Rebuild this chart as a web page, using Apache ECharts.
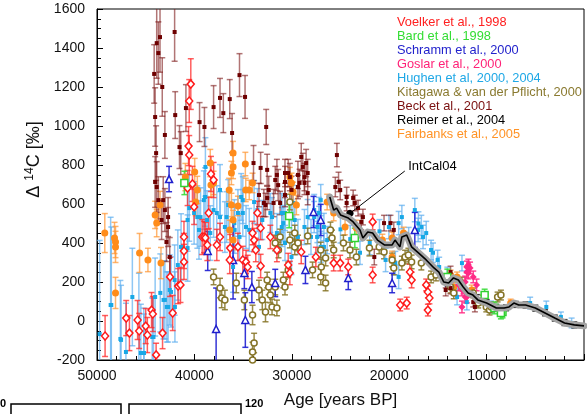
<!DOCTYPE html>
<html>
<head>
<meta charset="utf-8">
<script src="https://cdn.jsdelivr.net/npm/echarts@6/dist/echarts.min.js"></script>
<style>html,body{margin:0;padding:0;background:#fff;}#c{width:587px;height:414px;}</style>
</head>
<body>
<div id="c"></div>
<script>
// ---- data: [age (years BP), Δ14C (‰), 1σ error (‰)] ----
const voelker = [[49170,-77,105],[47000,15,90],[46670,-62,90],[45830,5,100],[45670,-51,90],[45000,-26,90],[44830,-72,90],[44400,56,90],[44270,36,90],[43930,-174,60],[43270,-62,80],[42230,41,90],[42500,226,100],[41670,179,90],[41430,185,90],[41070,303,90],[41070,359,90],[41070,431,80],[40370,1215,130],[40530,1128,110],[40600,897,100],[40530,851,100],[40700,682,90],[40200,703,90],[40030,585,90],[39200,431,90],[39000,431,80],[38870,426,80],[38670,390,80],[38530,554,80],[38300,754,90],[38030,723,90],[37700,390,80],[37370,431,70],[36370,313,70],[36330,374,70],[35530,380,70],[35030,313,70],[34700,303,60],[34530,277,60],[34030,451,60],[33870,415,60],[33700,364,60],[33530,554,60],[33200,477,60],[33200,282,60],[32200,431,60],[31530,364,60],[30370,287,60],[30200,246,60],[29030,354,60],[27530,328,50],[25700,297,40],[25030,297,40],[24200,277,40],[21700,508,40],[21700,236,40],[18200,92,30],[18870,82,30],[17870,251,40],[17700,210,40],[16200,185,30],[16030,149,30],[15870,118,30],[16030,56,30]];
const bard = [[41030,708,60],[30270,538,60],[23530,426,50],[14030,226,40],[10200,133,30],[9200,67,30],[8370,46,30],[8530,41,30]];
const schramm = [[42600,728,65],[38630,359,100],[36030,313,200],[37770,-41,210],[34870,246,80],[34100,174,80],[34770,5,140],[31700,195,70],[28600,262,70],[27770,559,80],[27030,518,80],[24200,221,60],[19700,195,50],[17370,467,90]];
const goslar = [[11870,287,30],[11700,272,30],[12030,251,30],[12200,200,30],[11370,226,30],[11030,185,30],[12370,169,30],[12030,123,30],[12530,72,30],[12030,277,30],[11870,246,30],[12200,123,30],[12870,185,30],[12530,159,30]];
const hughen = [[49730,-67,480],[48600,82,450],[48530,82,400],[47600,-92,300],[47530,-97,280],[47030,-159,250],[46370,123,250],[45700,5,240],[45500,-164,250],[45200,-164,230],[45170,-164,200],[44330,-82,200],[44200,-82,200],[44030,123,200],[43500,144,200],[43170,108,200],[43030,108,200],[42830,72,180],[42700,72,180],[42530,159,180],[42400,149,180],[42030,210,180],[42000,72,180],[41700,287,180],[41370,380,170],[40700,374,170],[40700,518,160],[40530,579,170],[40030,554,160],[39700,533,160],[39530,467,150],[39370,533,150],[39030,620,150],[38900,636,150],[38870,790,150],[38700,518,150],[38370,451,140],[38030,569,140],[37700,554,140],[37370,533,130],[37370,672,130],[36870,482,130],[36700,533,130],[36530,595,130],[36030,277,130],[35900,502,120],[35870,467,120],[35530,554,120],[35370,431,120],[35200,636,120],[35030,620,120],[35030,554,120],[34700,482,110],[34370,467,110],[33870,610,110],[33530,569,110],[33370,380,110],[33030,518,100],[32200,554,100],[32030,533,100],[31530,451,100],[31030,554,100],[31030,482,100],[30870,502,90],[30700,554,90],[30700,400,90],[30030,533,90],[30030,328,90],[29870,605,90],[29700,518,90],[29370,431,90],[28700,482,90],[28370,533,90],[28030,431,90],[27700,569,80],[27700,533,80],[27400,431,80],[27370,482,80],[27200,508,80],[27200,554,80],[27030,620,80],[27030,380,80],[26700,482,70],[26700,380,70],[26370,415,70],[25000,470,70],[24000,420,70],[23000,350,60],[22000,400,60],[21000,460,60],[20370,313,60],[20030,482,60],[19370,297,60],[19030,502,60],[19030,226,60],[18700,533,60],[18000,420,60],[17370,569,60],[17030,467,60],[17000,500,60],[16700,482,60],[16530,431,60],[16200,451,60],[15700,364,50],[15500,350,50],[15030,313,50],[14870,277,50],[14030,226,50],[13200,174,40],[13030,123,40],[12530,297,40],[12030,97,40],[9530,72,30],[5530,92,30],[3870,72,30],[2370,21,25],[1270,-10,25]];
const kitagawa = [[38030,226,40],[37370,169,50],[37200,118,50],[36870,108,50],[35700,195,50],[34870,108,50],[34030,31,50],[33870,-113,50],[34030,-159,50],[34030,-200,50],[33370,159,50],[33030,108,50],[32700,46,50],[32370,174,40],[32200,133,40],[32030,72,40],[32530,210,40],[31700,174,40],[31530,67,40],[31700,400,40],[31370,364,40],[30870,210,40],[30700,174,40],[30370,262,40],[30200,415,40],[30200,610,40],[29700,451,40],[29700,380,40],[29370,400,40],[28370,436,40],[31200,431,40],[27870,262,40],[27030,226,40],[26970,277,40],[27030,364,40],[26530,323,40],[26530,195,40],[26030,467,40],[25870,426,40],[25700,364,40],[24700,400,40],[24030,364,40],[23370,328,40],[22030,374,40],[21030,380,35],[20530,354,35],[19700,313,35],[19530,272,35],[18700,297,35],[18370,328,35],[18030,338,35],[17700,303,35],[16700,297,35],[15700,226,30],[15200,236,30],[13700,174,30],[13370,144,30],[12530,195,30],[11370,144,25],[10870,92,25],[10370,108,25],[10030,72,25],[9700,56,25],[9530,72,25],[8870,123,25],[8530,133,25]];
const beck = [[44130,1267,150],[43870,1425,180],[43700,1374,160],[43530,1456,180],[43300,1200,150],[44030,1046,150],[43930,861,140],[44030,713,130],[43030,954,120],[42030,1482,150],[41970,1056,120],[41530,892,110],[41400,861,110],[40870,1092,120],[39470,1020,100],[38970,995,100],[38030,1097,110],[37370,1144,100],[37030,1066,100],[36370,1138,100],[36130,964,100],[35370,1261,110],[34800,1149,110],[33930,810,90],[33200,785,80],[32630,995,90],[32530,775,80],[31530,749,80],[31400,697,80],[31700,723,70],[30700,713,80],[30700,759,70],[30370,759,70],[30200,738,70],[30030,672,70],[29370,749,70],[29200,708,70],[29030,841,70],[28870,790,70],[28700,738,70],[28530,810,70],[28370,759,70],[28370,656,60],[29370,687,60],[28700,708,60],[32370,672,70],[32870,605,70],[31870,605,70],[32700,595,60],[32530,631,60],[33370,646,60],[31200,605,60],[30700,646,60],[43870,687,130],[43700,620,120],[43030,569,110],[42700,482,100],[42870,405,100],[42530,328,100],[43200,620,120],[42700,533,100],[43370,518,100],[25370,851,60],[25200,713,50],[25530,687,50],[25030,672,50],[24370,636,50],[24370,605,40],[23700,631,40],[23530,605,40],[23200,579,40],[22700,533,40],[22870,508,40],[21530,328,40],[20530,502,40],[19870,502,40],[19530,467,40],[13700,251,30],[14200,200,30],[14200,159,30],[13700,169,30],[11200,72,25],[11370,97,25]];
const reimer = [[11000,120,15],[10000,95,15],[9000,70,15],[8000,68,15],[7000,85,15],[6000,82,15],[5000,66,15],[4000,42,15],[3000,15,15],[2000,-8,15],[1000,-20,15]];
const fairbanks = [[49200,451,100],[48200,426,80],[48100,405,80],[48100,380,80],[48100,144,80],[45630,349,100],[44770,313,60],[43430,297,80],[44030,544,70],[43870,502,70],[43530,595,70],[40930,738,70],[39970,764,70],[39870,610,70],[39700,672,70],[38370,810,70],[38300,697,60],[38030,708,60],[36430,672,60],[36370,467,50],[36200,759,60],[36200,595,60],[36030,861,60],[36030,790,60],[36030,518,50],[36030,415,50],[35530,590,50],[34770,805,60],[34730,672,60],[34370,672,50],[34030,708,50],[30200,738,50],[30030,708,50],[29870,662,50],[29530,595,50],[26370,610,40],[25700,554,40],[24530,482,40],[23370,477,40],[20700,415,30],[19700,426,30],[19700,328,30],[18530,451,30],[13700,236,25],[13030,226,25],[13370,174,25],[11530,159,25],[7530,92,20]];
const intcalAge = [26100,25700,25400,25000,24200,23700,23000,22700,22200,21700,21200,20500,19700,19400,18900,18700,18200,17700,17000,16200,15400,14900,14400,13900,13400,12900,12400,11900,11400,10900,10000,9000,8200,7700,7200,6700,6000,5000,4000,3000,2000,1000,0];
const intcalD14C = [636,569,579,544,528,508,467,426,456,451,415,390,390,415,380,431,441,380,349,313,272,251,200,195,221,210,174,144,133,108,92,67,67,72,92,82,82,67,41,15,-10,-20,-25];
const xTicks = [0,10000,20000,30000,40000,50000];
const yTicks = [-200,0,200,400,600,800,1000,1200,1400,1600];

const FONT = "'Liberation Sans', Arial, Helvetica, sans-serif";

const sets = {
  voelker:  {name:'Voelker et al., 1998', data:voelker, text:'#ff2020', bar:'rgba(255,40,40,0.75)', sym:'diamond', size:[7,8], fill:'#ffffff', stroke:'#ff1a1a'},
  bard:     {name:'Bard et al., 1998', data:bard, text:'#33dd33', bar:'rgba(60,220,60,0.9)', sym:'rect', size:7, fill:'#ffffff', stroke:'#2fd12f'},
  schramm:  {name:'Schramm et al., 2000', data:schramm, text:'#2222cc', bar:'rgba(30,30,210,0.9)', sym:'triangle', size:7, fill:'#ffffff', stroke:'#1f1fcc'},
  goslar:   {name:'Goslar et al., 2000', data:goslar, text:'#ff2277', bar:'rgba(255,40,130,0.85)', sym:'diamond', size:7, fill:'#ff2a85', stroke:null},
  hughen:   {name:'Hughen et al, 2000, 2004', data:hughen, text:'#1fa8e6', bar:'rgba(95,175,240,0.7)', sym:'rect', size:4, fill:'#18a8e6', stroke:null},
  kitagawa: {name:'Kitagawa & van der Pflicht, 2000', data:kitagawa, text:'#8a7a30', bar:'rgba(135,118,40,0.85)', sym:'circle', size:6, fill:'#ffffff', stroke:'#857428'},
  beck:     {name:'Beck et al., 2001', data:beck, text:'#7a0f0f', bar:'rgba(125,25,25,0.6)', sym:'rect', size:4, fill:'#6e0000', stroke:null},
  reimer:   {name:'Reimer et al., 2004', data:reimer, text:'#000000', bar:'rgba(0,0,0,0.8)', sym:'circle', size:3, fill:'#000000', stroke:null},
  fairbanks:{name:'Fairbanks et al., 2005', data:fairbanks, text:'#ff9326', bar:'rgba(255,150,50,0.7)', sym:'circle', size:7, fill:'#ff8c1a', stroke:null}
};
const legendOrder = ['voelker','bard','schramm','goslar','hughen','kitagawa','beck','reimer','fairbanks'];
const barOrder = ['hughen','fairbanks','kitagawa','schramm','voelker','beck','goslar','bard','reimer'];
const markOrder = ['hughen','fairbanks','kitagawa','beck','schramm','voelker','goslar','bard','reimer'];

function errRender(color, capW, lw) {
  return function (params, api) {
    const x = api.value(0), y = api.value(1), e = api.value(2);
    const t = api.coord([x, y + e]);
    const b = api.coord([x, y - e]);
    const h = capW / 2;
    const st = {stroke: color, lineWidth: lw};
    return {type: 'group', children: [
      {type: 'line', shape: {x1: t[0], y1: t[1], x2: b[0], y2: b[1]}, style: st},
      {type: 'line', shape: {x1: t[0] - h, y1: t[1], x2: t[0] + h, y2: t[1]}, style: st},
      {type: 'line', shape: {x1: b[0] - h, y1: b[1], x2: b[0] + h, y2: b[1]}, style: st}
    ]};
  };
}

const series = [];
barOrder.forEach(k => {
  const s = sets[k];
  series.push({type: 'custom', name: s.name, data: s.data, renderItem: errRender(s.bar, 6, 1.5),
    encode: {x: 0, y: 1}, clip: true, z: 2, silent: true});
});
markOrder.forEach(k => {
  const s = sets[k];
  series.push({type: 'scatter', name: s.name, data: s.data.map(d => [d[0], d[1]]), symbol: s.sym,
    symbolSize: s.size, clip: true, z: 3, silent: true,
    itemStyle: {color: s.fill, opacity: 1, borderColor: s.stroke || s.fill, borderWidth: s.stroke ? 1.5 : 0}});
});
const curve = intcalAge.map((a, i) => [a, intcalD14C[i]]);
series.push({type: 'line', name: 'IntCal04 band', data: curve, showSymbol: false, z: 5, silent: true,
  lineStyle: {color: '#a3a3a3', width: 7, join: 'round', cap: 'round'}});
series.push({type: 'line', name: 'IntCal04', data: curve, showSymbol: false, z: 6, silent: true,
  lineStyle: {color: '#000000', width: 1.6},
  markLine: {silent: true, symbol: ['circle', 'none'], symbolSize: 7, animation: false,
    lineStyle: {color: '#000', width: 1, type: 'solid'}, label: {show: false},
    data: [[{coord: [24030, 552]}, {coord: [18400, 769]}]]},
  markPoint: {symbol: 'circle', symbolSize: 1, itemStyle: {color: 'rgba(0,0,0,0)'},
    label: {show: true, position: 'right', distance: 0, formatter: 'IntCal04', color: '#000', fontSize: 13, fontFamily: FONT},
    data: [{coord: [18100, 795]}]}
});

const chart = echarts.init(document.getElementById('c'), null, {renderer: 'canvas'});
chart.setOption({
  animation: false,
  backgroundColor: '#fff',
  textStyle: {fontFamily: FONT},
  grid: {left: 97, top: 9, width: 500, height: 351, show: true, borderColor: '#000', borderWidth: 1, backgroundColor: 'rgba(0,0,0,0)'},
  legend: {
    orient: 'vertical', left: 392, top: 16, padding: 0, itemWidth: 0, itemHeight: 0, itemGap: 0, icon: 'rect',
    selectedMode: false,
    textStyle: {fontSize: 12.8, fontFamily: FONT, lineHeight: 13.9},
    data: legendOrder.map(k => ({name: sets[k].name, textStyle: {color: sets[k].text}}))
  },
  xAxis: {
    type: 'value', min: xTicks[0], max: xTicks[xTicks.length - 1], interval: 10000, inverse: true,
    name: 'Age [years BP]', nameLocation: 'middle', nameGap: 32,
    nameTextStyle: {fontSize: 17, color: '#111', fontFamily: FONT},
    axisLine: {show: true, onZero: false, lineStyle: {color: '#000', width: 1}},
    axisTick: {show: true, inside: true, length: 6, lineStyle: {color: '#000'}},
    minorTick: {show: true, splitNumber: 5, length: 4, lineStyle: {color: '#000'}},
    splitLine: {show: false},
    axisLabel: {margin: 9, fontSize: 14, color: '#111', fontFamily: FONT, formatter: v => (v === 0 ? '' : String(v))}
  },
  yAxis: {
    type: 'value', min: yTicks[0], max: yTicks[yTicks.length - 1], interval: 200,
    name: '{d|Δ }{s|14}{c|C [‰]}', nameLocation: 'middle', nameGap: 46, nameRotate: 90,
    nameTextStyle: {color: '#111', fontFamily: FONT, padding: [0, 0, 0, 50],
      rich: {d: {fontSize: 18, fontFamily: FONT, color: '#111'}, s: {fontSize: 12, fontFamily: FONT, color: '#111', verticalAlign: 'top', padding: [0, 0, 8, 0]}, c: {fontSize: 18, fontFamily: FONT, color: '#111'}}},
    axisLine: {show: true, onZero: false, lineStyle: {color: '#000', width: 1}},
    axisTick: {show: true, inside: true, length: 6, lineStyle: {color: '#000'}},
    minorTick: {show: true, splitNumber: 4, length: 4, lineStyle: {color: '#000'}},
    splitLine: {show: false},
    axisLabel: {margin: 12, fontSize: 14, color: '#111', fontFamily: FONT, formatter: v => String(v)}
  },
  graphic: [
    {type: 'rect', shape: {x: 11, y: 404, width: 110, height: 20}, style: {fill: 'none', stroke: '#000', lineWidth: 1.5}},
    {type: 'rect', shape: {x: 129, y: 404, width: 112, height: 20}, style: {fill: 'none', stroke: '#000', lineWidth: 1.5}},
    {type: 'text', left: 0, top: 398, style: {text: '0', fontSize: 11, fontWeight: 'bold', fill: '#000', fontFamily: FONT}},
    {type: 'text', left: 245, top: 398, style: {text: '120', fontSize: 11, fontWeight: 'bold', fill: '#000', fontFamily: FONT}}
  ],
  series: series
});
</script>
</body>
</html>
